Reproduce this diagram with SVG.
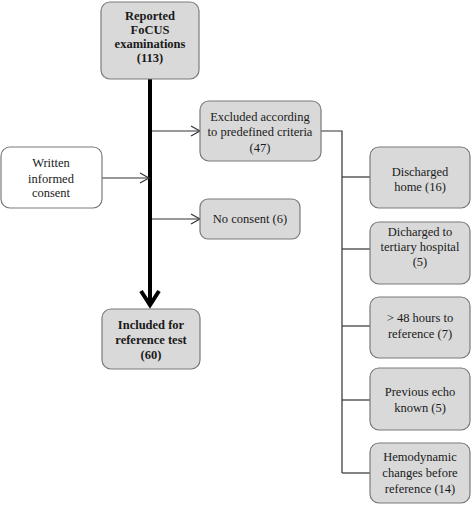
<svg xmlns="http://www.w3.org/2000/svg" width="472" height="505" viewBox="0 0 472 505">
<defs>
<marker id="chev" markerWidth="12" markerHeight="12" refX="10" refY="6" orient="auto" markerUnits="userSpaceOnUse">
<polyline points="1,1 10,6 1,11" fill="none" stroke="#333" stroke-width="1.2"/>
</marker>
<style>
.box{fill:#d9d9d9;stroke:#7a7a7a;stroke-width:1.2}
.wbox{fill:#fff;stroke:#7a7a7a;stroke-width:1.2}
text{font-family:"Liberation Serif","Times New Roman",serif;font-size:12.5px;fill:#1a1a1a;text-anchor:middle}
.b{font-weight:bold}
.ln{fill:none;stroke:#333;stroke-width:1.2}
</style>
</defs>
<rect width="472" height="505" fill="#fff"/>
<g id="connectors">
<line x1="150" y1="79" x2="150" y2="305" stroke="#000" stroke-width="4"/>
<polyline points="141,291 150,305 159,291" fill="none" stroke="#000" stroke-width="4"/>
<line class="ln" x1="102" y1="178" x2="149" y2="178" marker-end="url(#chev)"/>
<line class="ln" x1="152" y1="131" x2="200" y2="131" marker-end="url(#chev)"/>
<line class="ln" x1="152" y1="219" x2="200" y2="219" marker-end="url(#chev)"/>
<polyline class="ln" points="321,131 342,131 342,473"/>
<line class="ln" x1="342" y1="177" x2="370" y2="177"/>
<line class="ln" x1="342" y1="249" x2="370" y2="249"/>
<line class="ln" x1="342" y1="326" x2="370" y2="326"/>
<line class="ln" x1="342" y1="400" x2="370" y2="400"/>
<line class="ln" x1="342" y1="473" x2="370" y2="473"/>
</g>
<g id="reported">
<rect class="box" x="101" y="2" width="98" height="77" rx="9"/>
<text class="b" x="150" y="20">Reported</text>
<text class="b" x="150" y="34">FoCUS</text>
<text class="b" x="150" y="48">examinations</text>
<text class="b" x="150" y="62">(113)</text>
</g>
<g id="consent">
<rect class="wbox" x="1" y="147" width="101" height="61" rx="9"/>
<text x="51" y="167">Written</text>
<text x="51" y="183">informed</text>
<text x="51" y="197">consent</text>
</g>
<g id="excluded">
<rect class="box" x="200" y="101" width="121" height="60" rx="9"/>
<text x="260" y="121">Excluded according</text>
<text x="260" y="136">to predefined criteria</text>
<text x="260" y="152">(47)</text>
</g>
<g id="noconsent">
<rect class="box" x="200" y="199" width="100" height="40" rx="8"/>
<text x="250" y="223">No consent (6)</text>
</g>
<g id="included">
<rect class="box" x="102" y="309" width="98" height="60" rx="9"/>
<text class="b" x="151" y="329">Included for</text>
<text class="b" x="151" y="344">reference test</text>
<text class="b" x="151" y="359">(60)</text>
</g>
<g id="home">
<rect class="box" x="370" y="147" width="100" height="61" rx="9"/>
<text x="420" y="176">Discharged</text>
<text x="420" y="191">home (16)</text>
</g>
<g id="tertiary">
<rect class="box" x="370" y="222" width="100" height="62" rx="9"/>
<text x="420" y="236">Dicharged to</text>
<text x="420" y="251">tertiary hospital</text>
<text x="420" y="266">(5)</text>
</g>
<g id="hours">
<rect class="box" x="370" y="297" width="100" height="61" rx="9"/>
<text x="420" y="322">&gt; 48 hours to</text>
<text x="420" y="338">reference (7)</text>
</g>
<g id="echo">
<rect class="box" x="370" y="368" width="100" height="62" rx="9"/>
<text x="420" y="396">Previous echo</text>
<text x="420" y="412">known (5)</text>
</g>
<g id="hemo">
<rect class="box" x="370" y="443" width="100" height="60" rx="9"/>
<text x="420" y="461">Hemodynamic</text>
<text x="420" y="477">changes before</text>
<text x="420" y="493">reference (14)</text>
</g>
</svg>
